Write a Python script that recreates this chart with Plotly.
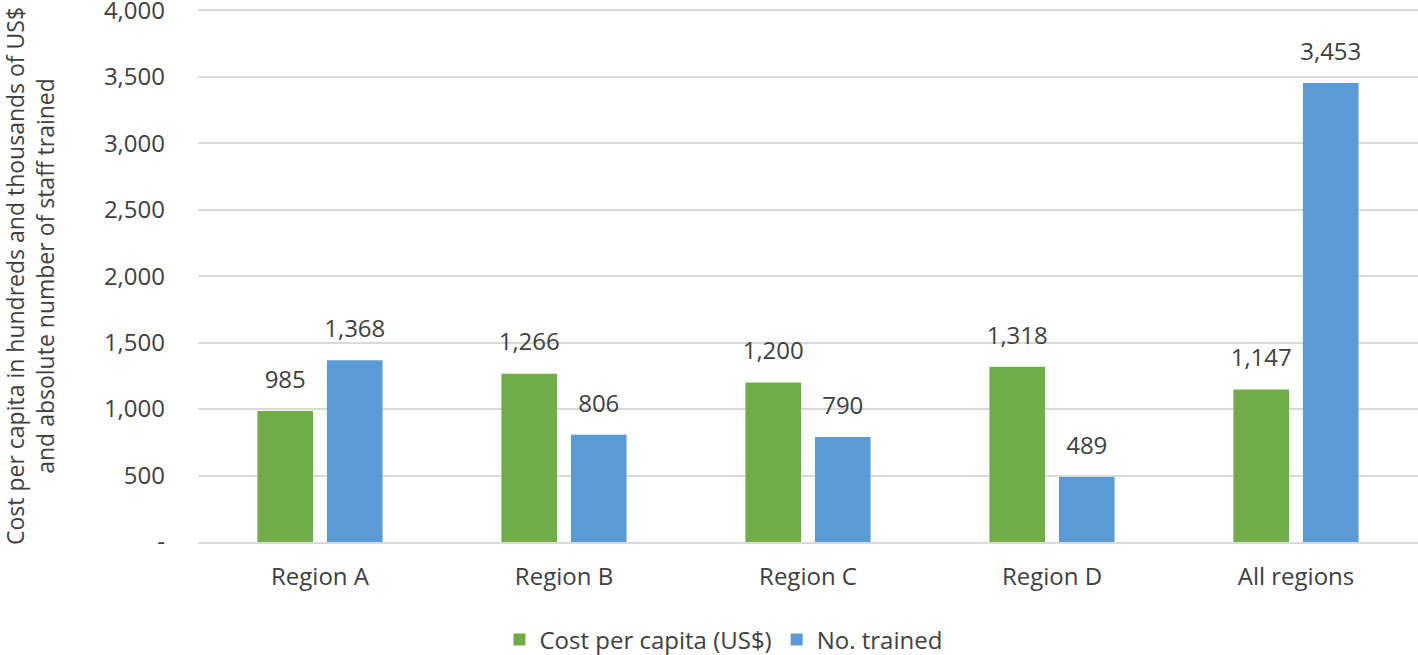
import plotly.graph_objects as go

categories = ["Region A", "Region B", "Region C", "Region D", "All regions"]
cost_per_capita = [985, 1266, 1200, 1318, 1147]
no_trained = [1368, 806, 790, 489, 3453]
tick_vals = [0, 500, 1000, 1500, 2000, 2500, 3000, 3500, 4000]
tick_text = ["-", "500", "1,000", "1,500", "2,000", "2,500", "3,000", "3,500", "4,000"]

FONT = "Open Sans"
TXT = "#404040"
series = [("Cost per capita (US$)", cost_per_capita, "#70AD47"),
          ("No. trained", no_trained, "#5B9BD5")]

fig = go.Figure()
for name, vals, color in series:
    fig.add_trace(go.Bar(
        x=categories, y=vals, name=name,
        marker=dict(color=color, line=dict(width=0)),
    ))
# value labels, grouped like the bars, lifted above the bar ends
for name, vals, color in series:
    fig.add_trace(go.Scatter(
        x=categories, y=vals, mode="markers+text", showlegend=False, hoverinfo="skip",
        marker=dict(size=26, color="rgba(0,0,0,0)"),
        text=[f"{v:,}" for v in vals], textposition="top center", cliponaxis=False,
        textfont=dict(size=24, color=TXT, family=FONT),
    ))

fig.update_layout(
    width=1418, height=655,
    margin=dict(l=198, r=0, t=9, b=113),
    paper_bgcolor="white", plot_bgcolor="white",
    barmode="group", bargap=0.43, bargroupgap=0.2,
    scattermode="group", scattergap=0.43,
    font=dict(family=FONT, color=TXT, size=22),
    showlegend=True,
    legend=dict(orientation="h", x=0.5102, xanchor="center", xref="container",
                y=0.0229, yanchor="middle", yref="container",
                font=dict(size=24, color=TXT, family=FONT), traceorder="normal"),
    yaxis=dict(range=[0, 4010], tickvals=tick_vals, ticktext=tick_text,
               showgrid=True, gridcolor="#D9D9D9", gridwidth=2,
               zeroline=False, showline=False, ticks="", automargin=False,
               ticklabeloverflow="allow",
               tickfont=dict(size=24, color=TXT, family=FONT), ticklabelstandoff=32),
    xaxis=dict(showline=True, linecolor="#D9D9D9", linewidth=2, ticks="", automargin=False,
               tickfont=dict(size=24, color=TXT, family=FONT), ticklabelstandoff=12),
    annotations=[dict(
        text="Cost per capita in hundreds and thousands of US$<br>and absolute number of staff trained",
        xref="paper", yref="paper", x=-0.1377, y=0.499, xanchor="center", yanchor="middle",
        textangle=-90, showarrow=False, font=dict(size=23, color=TXT, family=FONT),
    )],
)

fig.write_html("out.html", config={"displayModeBar": False},
               post_script="document.body.style.margin='0';")
